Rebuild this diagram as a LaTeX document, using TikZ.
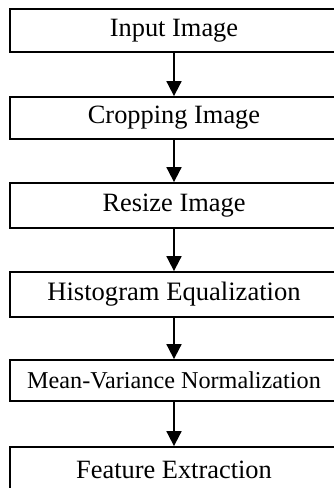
\documentclass[tikz,border=0pt]{standalone}
\usepackage{fontspec}
\setmainfont{Liberation Serif}
\usetikzlibrary{arrows.meta}
\begin{document}
\begin{tikzpicture}[x=1pt,y=-1pt,
  stepbox/.style={draw=black, line width=1.8pt, rectangle, minimum width=328pt, inner sep=0pt, anchor=center, font=\fontsize{26.4}{30}\selectfont},
  flow/.style={line width=1.8pt, -{Triangle[length=15pt,width=15pt]}}]
\clip (0,0) rectangle (334,488);
\fill[white] (0,0) rectangle (334,488);
\node[stepbox, minimum height=43pt] (b1) at (174,30.5) {Input Image};
\node[stepbox, minimum height=42pt] (b2) at (174,118) {Cropping Image};
\node[stepbox, minimum height=45pt] (b3) at (174,205.5) {Resize Image};
\node[stepbox, minimum height=45pt, font=\fontsize{26.6}{30}\selectfont] (b4) at (174,294.5) {Histogram Equalization};
\node[stepbox, minimum height=41pt, font=\fontsize{24.2}{28}\selectfont] (b5) at (174,380.5) {Mean-Variance Normalization};
\node[stepbox, minimum height=46pt] (b6) at (174,470) {Feature Extraction};
\draw[flow] (b1) -- (b2);
\draw[flow] (b2) -- (b3);
\draw[flow] (b3) -- (b4);
\draw[flow] (b4) -- (b5);
\draw[flow] (b5) -- (b6);
\end{tikzpicture}
\end{document}
